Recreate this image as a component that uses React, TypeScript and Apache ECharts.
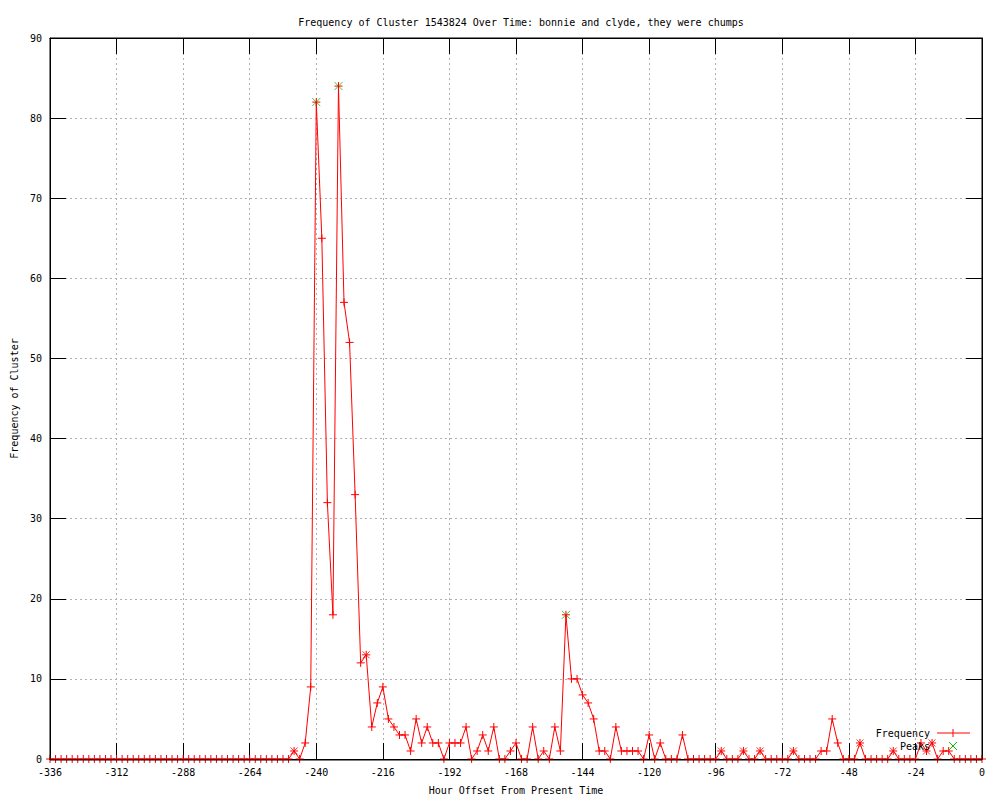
import React, { useEffect, useRef } from "react";
import * as echarts from "echarts";

// Frequency sampled every 2 hours from -336 to 0 (169 points)
const frequency: number[] = [
  0, 0, 0, 0, 0, 0, 0, 0, 0, 0, // 0-9
  0, 0, 0, 0, 0, 0, 0, 0, 0, 0, // 10-19
  0, 0, 0, 0, 0, 0, 0, 0, 0, 0, // 20-29
  0, 0, 0, 0, 0, 0, 0, 0, 0, 0, // 30-39
  0, 0, 0, 0, 1, 0, 2, 9, 82, 65, // 40-49
  32, 18, 84, 57, 52, 33, 12, 13, 4, 7, // 50-59
  9, 5, 4, 3, 3, 1, 5, 2, 4, 2, // 60-69
  2, 0, 2, 2, 2, 4, 0, 1, 3, 1, // 70-79
  4, 0, 0, 1, 2, 0, 0, 4, 0, 1, // 80-89
  0, 4, 1, 18, 10, 10, 8, 7, 5, 1, // 90-99
  1, 0, 4, 1, 1, 1, 1, 0, 3, 0, // 100-109
  2, 0, 0, 0, 3, 0, 0, 0, 0, 0, // 110-119
  0, 1, 0, 0, 0, 1, 0, 0, 1, 0, // 120-129
  0, 0, 0, 0, 1, 0, 0, 0, 0, 1, // 130-139
  1, 5, 2, 0, 0, 0, 2, 0, 0, 0, // 140-149
  0, 0, 1, 0, 0, 0, 0, 2, 1, 2, // 150-159
  0, 1, 1, 0, 0, 0, 0, 0, 0, // 160-168
];

const hourStart = -336;
const hourStep = 2;
const hours: number[] = frequency.map((_, i) => hourStart + hourStep * i);

const peakHours: number[] = [-240, -232, -150];
const starHours: number[] = [-248, -222, -94, -86, -80, -68, -44, -32, -20, -18];

const xTicks = { min: -336, max: 0, interval: 24 };
const yTicks = { min: 0, max: 90, interval: 10 };

const titleText =
  "Frequency of Cluster 1543824 Over Time: bonnie and clyde, they were chumps";
const xName = "Hour Offset From Present Time";
const yName = "Frequency of Cluster";

const MONO = "'DejaVu Sans Mono', 'Liberation Mono', monospace";
const PLUS = "path://M0,4L8,4M4,0L4,8";
const CROSS = "path://M0,0L8,8M8,0L0,8";

const GRID = { left: 50, right: 18, top: 38, bottom: 40 };

export default function App() {
  const ref = useRef<HTMLDivElement>(null);

  useEffect(() => {
    if (!ref.current) return;
    const chart = echarts.init(ref.current, undefined, { renderer: "svg" });

    const valueAt = (h: number) => frequency[hours.indexOf(h)];

    const tickCommon = {
      show: true,
      inside: true,
      length: 16,
      lineStyle: { color: "#000", width: 1 },
    };
    const splitCommon = {
      show: true,
      lineStyle: { color: "#b0b0b0", width: 1, type: [2, 3] as any },
    };
    const labelCommon = {
      fontFamily: MONO,
      fontSize: 10,
      color: "#000",
      margin: 8,
    };
    const lineCommon = { show: true, onZero: false, lineStyle: { color: "#000" } };

    const plotW = 1000 - GRID.left - GRID.right;
    const plotH = 800 - GRID.top - GRID.bottom;
    const lx = 930;
    const ly1 = 733;
    const ly2 = 746;

    chart.setOption({
      animation: false,
      backgroundColor: "#fff",
      title: {
        text: titleText,
        left: GRID.left + plotW / 2,
        textAlign: "center",
        top: 12,
        textStyle: { fontFamily: MONO, fontSize: 10, fontWeight: "normal", color: "#000" },
      },
      grid: { ...GRID, containLabel: false },
      xAxis: [
        {
          type: "value",
          position: "bottom",
          ...xTicks,
          axisLine: lineCommon,
          axisTick: tickCommon,
          axisLabel: labelCommon,
          splitLine: splitCommon,
          name: xName,
          nameLocation: "middle",
          nameGap: 26,
          nameTextStyle: { fontFamily: MONO, fontSize: 10, color: "#000" },
        },
        {
          type: "value",
          position: "top",
          ...xTicks,
          axisLine: lineCommon,
          axisTick: tickCommon,
          axisLabel: { show: false },
          splitLine: { show: false },
        },
      ],
      yAxis: [
        {
          type: "value",
          position: "left",
          ...yTicks,
          axisLine: lineCommon,
          axisTick: tickCommon,
          axisLabel: labelCommon,
          splitLine: splitCommon,
          name: yName,
          nameLocation: "middle",
          nameGap: 31,
          nameTextStyle: { fontFamily: MONO, fontSize: 10, color: "#000" },
        },
        {
          type: "value",
          position: "right",
          ...yTicks,
          axisLine: lineCommon,
          axisTick: tickCommon,
          axisLabel: { show: false },
          splitLine: { show: false },
        },
      ],
      series: [
        {
          name: "Peaks",
          type: "scatter",
          data: peakHours.map((h) => [h, valueAt(h)]),
          symbol: CROSS,
          symbolSize: 8,
          itemStyle: { color: "#00c000", borderColor: "#00c000", borderWidth: 1 },
          z: 2,
          clip: false,
        },
        {
          name: "Frequency",
          type: "line",
          data: hours.map((h, i) => [h, frequency[i]]),
          symbol: PLUS,
          symbolSize: 8,
          showAllSymbol: true,
          lineStyle: { color: "#ff0000", width: 1 },
          itemStyle: { color: "#ff0000", borderColor: "#ff0000", borderWidth: 1 },
          z: 3,
          clip: false,
        },
        {
          name: "marks",
          type: "scatter",
          data: starHours.map((h) => [h, valueAt(h)]),
          symbol: CROSS,
          symbolSize: 7,
          itemStyle: { color: "#ff0000", borderColor: "#ff0000", borderWidth: 1 },
          z: 4,
          clip: false,
        },
      ],
      graphic: [
        {
          type: "rect",
          shape: { x: GRID.left, y: GRID.top, width: plotW, height: plotH },
          style: { fill: "none", stroke: "#000", lineWidth: 1 },
          z: 5,
          silent: true,
        },
        {
          type: "text",
          x: lx,
          y: ly1,
          style: {
            text: "Frequency",
            fontFamily: MONO,
            fontSize: 10,
            fill: "#000",
            align: "right",
            verticalAlign: "middle",
          },
          z: 10,
        },
        {
          type: "line",
          shape: { x1: 937, y1: ly1, x2: 970, y2: ly1 },
          style: { stroke: "#ff0000", lineWidth: 1 },
          z: 10,
        },
        {
          type: "line",
          shape: { x1: 953, y1: ly1 - 4, x2: 953, y2: ly1 + 4 },
          style: { stroke: "#ff0000", lineWidth: 1 },
          z: 10,
        },
        {
          type: "text",
          x: lx,
          y: ly2,
          style: {
            text: "Peaks",
            fontFamily: MONO,
            fontSize: 10,
            fill: "#000",
            align: "right",
            verticalAlign: "middle",
          },
          z: 10,
        },
        {
          type: "line",
          shape: { x1: 949, y1: ly2 - 4, x2: 957, y2: ly2 + 4 },
          style: { stroke: "#00c000", lineWidth: 1 },
          z: 10,
        },
        {
          type: "line",
          shape: { x1: 957, y1: ly2 - 4, x2: 949, y2: ly2 + 4 },
          style: { stroke: "#00c000", lineWidth: 1 },
          z: 10,
        },
      ],
    });

    return () => chart.dispose();
  }, []);

  return (
    <div
      ref={ref}
      style={{ position: "absolute", left: 0, top: 0, width: 1000, height: 800 }}
    />
  );
}
